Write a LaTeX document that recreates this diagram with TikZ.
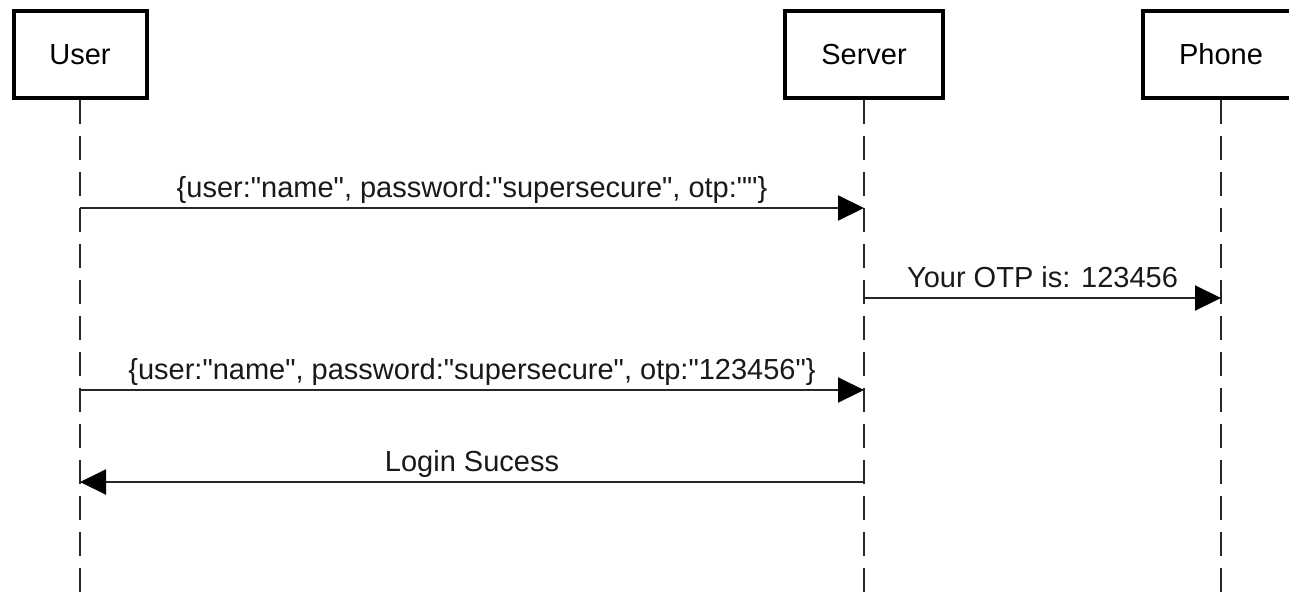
\documentclass[tikz,border=0pt]{standalone}
\usepackage{fontspec}
\setmainfont{Liberation Sans}
\usetikzlibrary{arrows.meta,calc}

% straight double quote
\newcommand{\dq}{\textquotedbl}

\tikzset{
  actor/.style={draw=black, line width=4pt, fill=white, minimum height=87pt,
    inner sep=0pt, outer sep=0pt, font=\fontsize{29}{34}\selectfont},
  lifeline/.style={draw=black!85, line width=2pt, dash pattern=on 24pt off 12pt},
  msg/.style={draw=black!85, line width=2pt,
    -{Triangle[length=26pt,width=25pt,color=black]}},
  lbl/.style={anchor=base, yshift=11pt, inner sep=0pt,
    font=\fontsize{29}{34}\selectfont, text=black!90}
}

\begin{document}
\begin{tikzpicture}[x=1pt, y=-1pt]
  \clip (0,0) rectangle (1289,592);
  \fill[white] (0,0) rectangle (1289,592);

  % participants
  \node[actor, minimum width=133pt] (user)   at (80,54.5)   {User};
  \node[actor, minimum width=158pt] (server) at (864,54.5)  {Server};
  \node[actor, minimum width=156pt] (phone)  at (1221,54.5) {Phone};

  % lifeline ends
  \coordinate (userEnd)   at (80,600);
  \coordinate (serverEnd) at (864,600);
  \coordinate (phoneEnd)  at (1221,600);

  % lifelines
  \draw[lifeline] ($(user.south)+(0,2)$)   -- (userEnd);
  \draw[lifeline] ($(server.south)+(0,2)$) -- (serverEnd);
  \draw[lifeline] ($(phone.south)+(0,2)$)  -- (phoneEnd);

  % message anchors on the lifelines
  \coordinate (u1) at (80,208);   \coordinate (s1) at (864,208);
  \coordinate (s2) at (864,298);  \coordinate (p2) at (1221,298);
  \coordinate (u3) at (80,390);   \coordinate (s3) at (864,390);
  \coordinate (u4) at (80,482);   \coordinate (s4) at (864,482);

  % messages
  \draw[msg] (u1) -- node[lbl] {\{user:\dq name\dq, password:\dq supersecure\dq, otp:\dq\dq\}} (s1);
  \draw[msg] (s2) -- node[lbl] {Your OTP is: 123456} (p2);
  \draw[msg] (u3) -- node[lbl] {\{user:\dq name\dq, password:\dq supersecure\dq, otp:\dq 123456\dq\}} (s3);
  \draw[msg] (s4) -- node[lbl] {Login Sucess} (u4);
\end{tikzpicture}
\end{document}
